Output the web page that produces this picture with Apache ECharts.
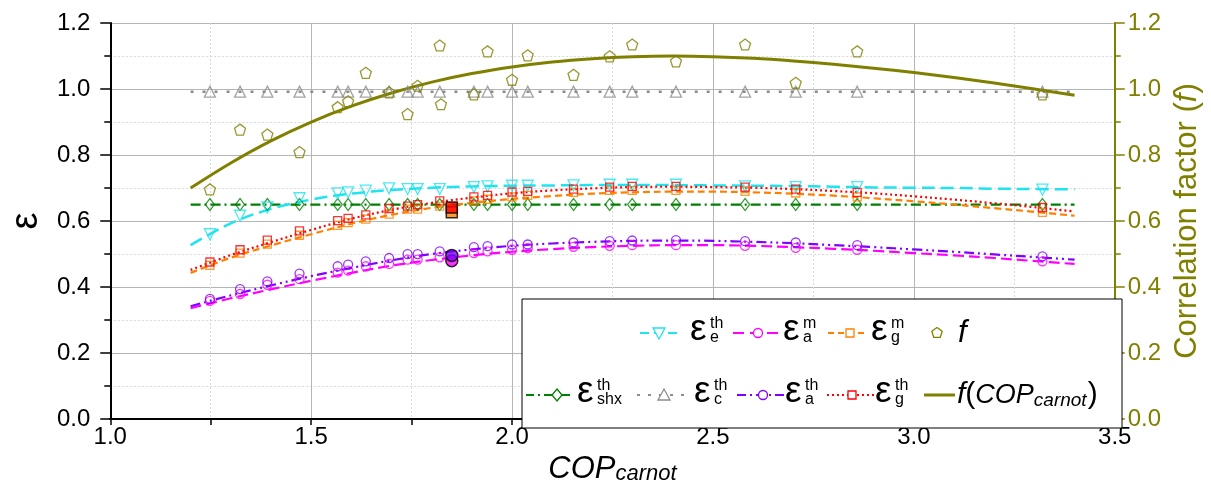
<!DOCTYPE html>
<html><head><meta charset="utf-8">
<script src="https://cdn.jsdelivr.net/npm/echarts@6/dist/echarts.min.js"></script>
<style>html,body{margin:0;padding:0;background:#fff}#c{width:1211px;height:490px}</style>
</head><body><div id="c"></div>
<script>
// ---------- data ----------
const X_PTS = [1.248,1.323,1.391,1.471,1.566,1.592,1.636,1.694,1.740,1.765,1.820,1.905,1.939,2.000,2.039,2.153,2.243,2.299,2.408,2.580,2.706,2.859,3.320];
const E_E_TH = [0.560,0.616,0.641,0.669,0.684,0.687,0.692,0.699,0.697,0.697,0.697,0.703,0.705,0.707,0.707,0.708,0.710,0.710,0.710,0.705,0.703,0.703,0.695];
const E_SHX_TH = [0.650,0.650,0.650,0.650,0.650,0.650,0.650,0.650,0.650,0.650,0.650,0.650,0.650,0.650,0.650,0.650,0.650,0.650,0.650,0.650,0.650,0.650,0.650];
const E_C_TH = [0.992,0.992,0.992,0.992,0.992,0.992,0.992,0.992,0.992,0.992,0.992,0.992,0.992,0.992,0.992,0.992,0.992,0.992,0.992,0.992,0.992,0.992,0.992];
const E_G_TH = [0.476,0.513,0.542,0.570,0.601,0.608,0.619,0.638,0.645,0.650,0.661,0.673,0.678,0.688,0.690,0.697,0.703,0.705,0.705,0.703,0.697,0.687,0.641];
const E_G_M = [0.466,0.503,0.530,0.557,0.587,0.595,0.606,0.621,0.636,0.636,0.645,0.661,0.666,0.673,0.678,0.687,0.693,0.693,0.693,0.690,0.685,0.673,0.626];
const E_A_TH = [0.364,0.394,0.417,0.441,0.463,0.468,0.478,0.488,0.500,0.500,0.508,0.521,0.524,0.529,0.529,0.535,0.539,0.541,0.542,0.539,0.535,0.527,0.493];
const E_A_M = [0.358,0.379,0.407,0.424,0.444,0.450,0.463,0.470,0.483,0.483,0.490,0.503,0.508,0.513,0.518,0.522,0.525,0.527,0.527,0.525,0.519,0.513,0.478];

const X_F = [1.248,1.323,1.391,1.471,1.566,1.592,1.636,1.694,1.740,1.765,1.820,1.823,1.905,1.939,2.000,2.039,2.153,2.243,2.299,2.408,2.580,2.706,2.859,3.320];
const F_VALS = [0.696,0.877,0.862,0.809,0.945,0.963,1.049,0.990,0.924,1.010,1.132,0.954,0.984,1.114,1.028,1.102,1.043,1.099,1.135,1.084,1.135,1.019,1.114,0.984];

const FIT_X = [1.2,1.3,1.4,1.5,1.6,1.7,1.8,1.9,2.0,2.1,2.2,2.3,2.4,2.5,2.6,2.7,2.8,2.9,3.0,3.1,3.2,3.3,3.4];
const FIT_E_TH = [0.527,0.593,0.637,0.665,0.683,0.694,0.701,0.705,0.707,0.708,0.709,0.709,0.709,0.708,0.707,0.706,0.704,0.702,0.701,0.700,0.698,0.697,0.696];
const FIT_A_M = [0.336,0.366,0.393,0.419,0.443,0.465,0.482,0.496,0.507,0.515,0.521,0.525,0.527,0.527,0.525,0.521,0.516,0.510,0.503,0.496,0.488,0.479,0.470];
const FIT_G_M = [0.443,0.489,0.526,0.560,0.592,0.619,0.640,0.655,0.667,0.676,0.683,0.687,0.689,0.689,0.687,0.683,0.677,0.669,0.660,0.650,0.639,0.628,0.616];
const FIT_A_TH = [0.342,0.375,0.405,0.433,0.458,0.481,0.500,0.514,0.525,0.532,0.537,0.540,0.541,0.540,0.537,0.533,0.527,0.521,0.514,0.507,0.499,0.491,0.483];
const FIT_G_TH = [0.452,0.497,0.536,0.573,0.607,0.634,0.655,0.671,0.684,0.693,0.699,0.703,0.704,0.703,0.701,0.697,0.691,0.684,0.675,0.665,0.654,0.642,0.629];
const FIT_F = [0.700,0.776,0.843,0.900,0.948,0.988,1.021,1.047,1.067,1.082,1.092,1.098,1.100,1.098,1.093,1.085,1.075,1.063,1.050,1.035,1.018,1.000,0.981];
const CONST_X = [1.2,3.4];
const FIT_SHX = [0.650,0.650];
const FIT_C = [0.992,0.992];

// highlighted measurement
const HL_X = [1.85];
const HL_G_M = [0.627];
const HL_G_TH = [0.641];
const HL_A_M = [0.480];
const HL_A_TH = [0.496];

const X_LABELS = ['1.0','1.5','2.0','2.5','3.0','3.5'];
const Y_LABELS = ['0.0','0.2','0.4','0.6','0.8','1.0','1.2'];

// ---------- styling ----------
const FONT = 'Liberation Sans, Arial, sans-serif';
const C = {cyan:'#1FE3EE', mag:'#FF00FF', org:'#FF8000', olive:'#808000', green:'#008000', gray:'#8C8C8C', purp:'#8000FF', red:'#FF0000'};
const PENT = 'path://M50,0 L97.6,34.5 L79.4,90.5 L20.6,90.5 L2.4,34.5 Z';

const pairs = (xs, ys) => xs.map((x, i) => [x, ys[i]]);
function fit(data, color, dash, width, yIdx) {
  return {type:'line', data, yAxisIndex: yIdx||0, symbol:'none', showSymbol:false, smooth:0.35, silent:true,
    lineStyle:{color, width: width||2, type: dash}, z:3};
}
function pts(data, symbol, color, size, rotate, yIdx) {
  return {type:'scatter', data, yAxisIndex: yIdx||0, symbol, symbolSize:size, symbolRotate: rotate||0, silent:true,
    itemStyle:{color:'rgba(255,255,255,0)', borderColor: color, borderWidth:1.3}, z:4};
}
function hl(data, symbol, color, size) {
  return {type:'scatter', data, symbol, symbolSize:size, silent:true,
    itemStyle:{color, borderColor:'#000', borderWidth:1.5}, z:6};
}

const series = [
  fit(pairs(CONST_X, FIT_C), C.gray, [3,9], 2.5),
  fit(pairs(CONST_X, FIT_SHX), C.green, [10,4,2,4], 2.2),
  fit(pairs(FIT_X, FIT_E_TH), C.cyan, [13,6], 2.5),
  fit(pairs(FIT_X, FIT_G_M), C.org, [7,4], 2.2),
  fit(pairs(FIT_X, FIT_G_TH), C.red, [2,3], 2.2),
  fit(pairs(FIT_X, FIT_A_M), C.mag, [11,5], 2.2),
  fit(pairs(FIT_X, FIT_A_TH), C.purp, [10,4,2,4,2,4], 2.2),
  fit(pairs(FIT_X, FIT_F), C.olive, 'solid', 3, 1),
  pts(pairs(X_PTS, E_C_TH), 'triangle', C.gray, 11),
  pts(pairs(X_PTS, E_SHX_TH), 'diamond', C.green, [9,12]),
  pts(pairs(X_PTS, E_E_TH), 'triangle', C.cyan, 11, 180),
  pts(pairs(X_PTS, E_G_M), 'rect', C.org, 8),
  pts(pairs(X_PTS, E_G_TH), 'rect', C.red, 8),
  pts(pairs(X_PTS, E_A_M), 'circle', C.mag, 9),
  pts(pairs(X_PTS, E_A_TH), 'circle', C.purp, 9),
  pts(pairs(X_F, F_VALS), PENT, C.olive, 11, 0, 1),
  hl(pairs(HL_X, HL_G_M), 'rect', C.org, 11),
  hl(pairs(HL_X, HL_G_TH), 'rect', C.red, 11),
  hl(pairs(HL_X, HL_A_M), 'circle', C.mag, 12),
  hl(pairs(HL_X, HL_A_TH), 'circle', C.purp, 12)
];

// ---------- legend (drawn as graphics) ----------
const ROW1 = 333, ROW2 = 395;
const LEG = [
  {y:ROW1, l:[640,678], m:659, sym:'tridown', color:C.cyan, dash:[9,5], ex:690, sup:'th', sub:'e'},
  {y:ROW1, l:[733,782], m:758, sym:'circle', color:C.mag, dash:[11,6], ex:783, sup:'m', sub:'a'},
  {y:ROW1, l:[828,868], m:850, sym:'rect', color:C.org, dash:[6,4], ex:871, sup:'m', sub:'g'},
  {y:ROW1, l:null, m:937, sym:'pent', color:C.olive},
  {y:ROW2, l:[526,574], m:557, sym:'diamond', color:C.green, dash:[8,4,2,4], ex:577, sup:'th', sub:'shx'},
  {y:ROW2, l:[637,687], m:664, sym:'triup', color:C.gray, dash:[3,8], ex:694, sup:'th', sub:'c'},
  {y:ROW2, l:[737,785], m:763, sym:'circle', color:C.purp, dash:[9,4,2,4], ex:785, sup:'th', sub:'a'},
  {y:ROW2, l:[827,874], m:852, sym:'rect', color:C.red, dash:[2,3], ex:875, sup:'th', sub:'g'},
  {y:ROW2, l:[924,955], m:null, sym:null, color:C.olive, dash:null}
];
function symEl(kind, x, y, color) {
  const st = {fill:'#fff', stroke:color, lineWidth:1.3};
  if (kind === 'circle') return {type:'circle', shape:{cx:x, cy:y, r:4.5}, style:st, z:102};
  if (kind === 'rect') return {type:'rect', shape:{x:x-4, y:y-4, width:8, height:8}, style:st, z:102};
  if (kind === 'tridown') return {type:'polygon', shape:{points:[[x-6,y-5],[x+6,y-5],[x,y+6]]}, style:st, z:102};
  if (kind === 'triup') return {type:'polygon', shape:{points:[[x-6,y+5],[x+6,y+5],[x,y-6]]}, style:st, z:102};
  if (kind === 'diamond') return {type:'polygon', shape:{points:[[x,y-6],[x+5,y],[x,y+6],[x-5,y]]}, style:st, z:102};
  if (kind === 'pent') {
    const p = [];
    for (let k = 0; k < 5; k++) { const a = -Math.PI/2 + k*2*Math.PI/5; p.push([x+5.5*Math.cos(a), y+5.5*Math.sin(a)]); }
    return {type:'polygon', shape:{points:p}, style:st, z:102};
  }
}
const gfx = [{type:'rect', shape:{x:522, y:299, width:600, height:129}, style:{fill:'#fff', stroke:'#000', lineWidth:1}, z:100}];
LEG.forEach(e => {
  if (e.l) gfx.push({type:'line', shape:{x1:e.l[0], y1:e.y, x2:e.l[1], y2:e.y}, style:{stroke:e.color, lineWidth: e.sym ? 2.2 : 3, lineDash: e.dash || null}, z:101});
  if (e.sym) gfx.push(symEl(e.sym, e.m, e.y, e.color));
  if (e.sup) {
    gfx.push({type:'text', style:{text:'ε', x:e.ex, y:e.y-3, font:'37px ' + FONT, fill:'#000', verticalAlign:'middle'}, z:103});
    gfx.push({type:'text', style:{text:e.sup, x:e.ex+20, y:e.y-9, font:'16px ' + FONT, fill:'#000', verticalAlign:'middle'}, z:103});
    gfx.push({type:'text', style:{text:e.sub, x:e.ex+20, y:e.y+5, font:'16px ' + FONT, fill:'#000', verticalAlign:'middle'}, z:103});
  }
});
gfx.push({type:'text', style:{text:'f', x:958, y:ROW1, font:'italic 31px ' + FONT, fill:'#000', verticalAlign:'middle'}, z:103});
gfx.push({type:'text', style:{text:'{i|f}{p|(}{c|COP}{s|carnot}{p|)}', x:957, y:ROW2, fill:'#000', verticalAlign:'middle',
  rich:{i:{fontSize:30, fontStyle:'italic', fontFamily:FONT}, p:{fontSize:30, fontFamily:FONT},
        c:{fontSize:27, fontStyle:'italic', fontFamily:FONT},
        s:{fontSize:19, fontStyle:'italic', fontFamily:FONT, verticalAlign:'bottom', padding:[0,1,0,0]}}}, z:103});

// ---------- chart ----------
const chart = echarts.init(document.getElementById('c'), null, {renderer:'canvas'});
const splitMajor = {show:true, lineStyle:{color:'#b5b5b5', width:1, type:'solid'}};
const splitMinor = {show:true, lineStyle:{color:'#d8d8d8', width:1, type:[2,2]}};
chart.setOption({
  animation:false,
  backgroundColor:'#fff',
  grid:{left:92, right:89, top:23, bottom:62, containLabel:false},
  xAxis:[{
    type:'value', min:1.0, max:3.5, interval:0.5,
    axisLine:{show:true, onZero:false, lineStyle:{color:'#000', width:2}},
    axisTick:{show:true, length:6, lineStyle:{color:'#000', width:1.5}},
    minorTick:{show:true, splitNumber:2, length:6, lineStyle:{color:'#000', width:1.5}},
    splitLine: splitMajor, minorSplitLine: splitMinor,
    axisLabel:{fontSize:24, fontFamily:FONT, color:'#000', margin:6, formatter:(v)=>X_LABELS[Math.round((v-1)/0.5)]},
    name:'{a|COP}{b|carnot}', nameLocation:'middle', nameGap:25,
    nameTextStyle:{rich:{a:{fontSize:31, fontStyle:'italic', fontFamily:FONT, color:'#000'},
                         b:{fontSize:22, fontStyle:'italic', fontFamily:FONT, color:'#000', verticalAlign:'bottom'}}}
  },{
    type:'value', position:'top', min:1.0, max:3.5, interval:0.5,
    axisLine:{show:true, lineStyle:{color:'#000', width:2}}, axisTick:{show:false}, axisLabel:{show:false}, splitLine:{show:false}
  }],
  yAxis:[{
    type:'value', min:0, max:1.2, interval:0.2, position:'left',
    axisLine:{show:true, onZero:false, lineStyle:{color:'#000', width:2}},
    axisTick:{show:true, length:10, lineStyle:{color:'#000', width:1.5}},
    minorTick:{show:true, splitNumber:2, length:6, lineStyle:{color:'#000', width:1.5}},
    splitLine: splitMajor, minorSplitLine: splitMinor,
    axisLabel:{fontSize:24, fontFamily:FONT, color:'#000', margin:20, formatter:(v)=>Y_LABELS[Math.round(v/0.2)]},
    name:'ε', nameLocation:'middle', nameGap:54, nameRotate:90,
    nameTextStyle:{fontSize:38, fontFamily:FONT, color:'#000'}
  },{
    type:'value', min:0, max:1.2, interval:0.2, position:'right',
    axisLine:{show:true, onZero:false, lineStyle:{color:C.olive, width:2}},
    axisTick:{show:true, length:10, lineStyle:{color:C.olive, width:1.5}},
    minorTick:{show:true, splitNumber:2, length:6, lineStyle:{color:C.olive, width:1.5}},
    splitLine:{show:false},
    axisLabel:{fontSize:24, fontFamily:FONT, color:C.olive, margin:13, formatter:(v)=>Y_LABELS[Math.round(v/0.2)]},
    name:'{n|Correlation factor (}{i|f}{n|)}', nameLocation:'middle', nameGap:47, nameRotate:90,
    nameTextStyle:{rich:{n:{fontSize:31, fontFamily:FONT, color:C.olive}, i:{fontSize:31, fontStyle:'italic', fontFamily:FONT, color:C.olive}}}
  }],
  series,
  graphic: gfx
});
</script></body></html>
